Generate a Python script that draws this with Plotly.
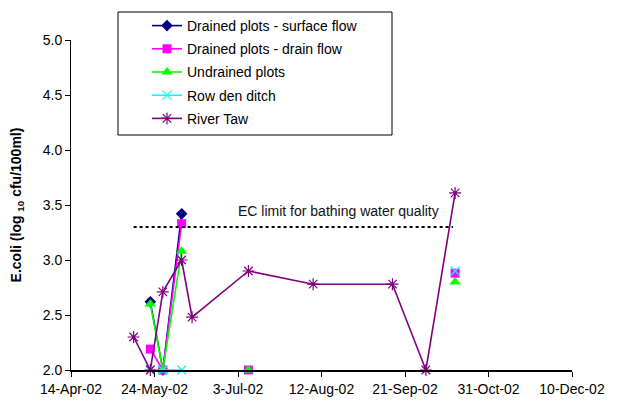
import plotly.graph_objects as go

dates = ["2002-05-14", "2002-05-22", "2002-05-28", "2002-06-06", "2002-06-11",
         "2002-07-08", "2002-08-08", "2002-09-15", "2002-10-01", "2002-10-15"]
surface_flow = [None, 2.62, 2.0, 3.42, None, None, None, None, None, None]
drain_flow = [None, 2.19, 2.0, 3.33, None, 2.0, None, None, None, 2.88]
undrained = [None, 2.60, 2.0, 3.08, None, 2.0, None, None, None, 2.80]
rowden_ditch = [None, 2.0, 2.0, 2.0, None, None, None, None, None, 2.90]
river_taw = [2.30, 2.0, 2.71, 3.00, 2.48, 2.90, 2.78, 2.78, 2.0, 3.61]

ec_limit_dates = ["2002-05-14", "2002-10-14"]
ec_limit_value = [3.3, 3.3]
ec_label = "EC limit for bathing water quality"

series = [
    ("Drained plots - surface flow", surface_flow, "#000080", "diamond", 9),
    ("Drained plots - drain flow", drain_flow, "#FF00FF", "square", 9),
    ("Undrained plots", undrained, "#00FF00", "triangle-up", 10),
    ("Row den ditch", rowden_ditch, "#00FFFF", "x-thin-open", 9),
    ("River Taw", river_taw, "#800080", "asterisk-open", 10),
]

# page body has an 8px margin: plot area target is x 71..572, y 40..370 on screen
OFF = 8
L, T, R, B = 71 - OFF, 40 - OFF, 50, 36
W, H = 622 - OFF, 406 - OFF
PW, PH = W - L - R, H - T - B


def px(xs):
    return (xs - OFF - L) / PW


def py(ys):
    return (H - B - (ys - OFF)) / PH


fig = go.Figure()
for i, (name, vals, col, sym, sz) in enumerate(series):
    fig.add_trace(go.Scatter(
        x=dates, y=vals, name=name, mode="lines+markers",
        connectgaps=False, cliponaxis=False, legendgroup=str(i),
        line=dict(color=col, width=1.6),
        marker=dict(color=col, symbol=sym, size=sz,
                    line=dict(color=col, width=1.2 if "open" in sym else 0)),
    ))

fig.add_trace(go.Scatter(
    x=ec_limit_dates, y=ec_limit_value, mode="lines", showlegend=False,
    line=dict(color="black", width=2, dash="dot"), hoverinfo="skip"))

fig.add_annotation(x="2002-08-20", y=3.45, text=ec_label, showarrow=False,
                   font=dict(family="Liberation Sans, Arial", size=14, color="#111"),
                   xanchor="center", yanchor="middle")

# legend box
fig.add_shape(type="rect", xref="paper", yref="paper",
              x0=px(118), x1=px(392), y0=py(135), y1=py(12),
              line=dict(color="black", width=1), fillcolor="rgba(0,0,0,0)")

fig.update_layout(
    width=W, height=H,
    margin=dict(l=L, r=R, t=T, b=B, autoexpand=False),
    paper_bgcolor="white", plot_bgcolor="white",
    font=dict(family="Liberation Sans, Arial", size=14, color="black"),
    legend=dict(x=px(147), y=py(10), xanchor="left", yanchor="top",
                bgcolor="rgba(0,0,0,0)", borderwidth=0, tracegroupgap=2,
                font=dict(size=14), itemwidth=30),
    xaxis=dict(type="date", range=["2002-04-14", "2002-12-10"], automargin=False,
               tick0="2002-04-14", dtick=40 * 86400000, tickformat="%-d-%b-%y",
               showline=True, linecolor="black", linewidth=1.5,
               ticks="outside", ticklen=5, tickcolor="black",
               showgrid=False, zeroline=False),
    yaxis=dict(range=[2, 5], dtick=0.5, tickformat=".1f", automargin=False,
               showline=True, linecolor="black", linewidth=1,
               ticks="outside", ticklen=5, tickcolor="black",
               showgrid=False, zeroline=False,
               title=dict(text="<b>E.coli (log <sub>10</sub> cfu/100ml)</b>",
                          font=dict(size=14), standoff=17)),
)

fig.write_html("out.html")
